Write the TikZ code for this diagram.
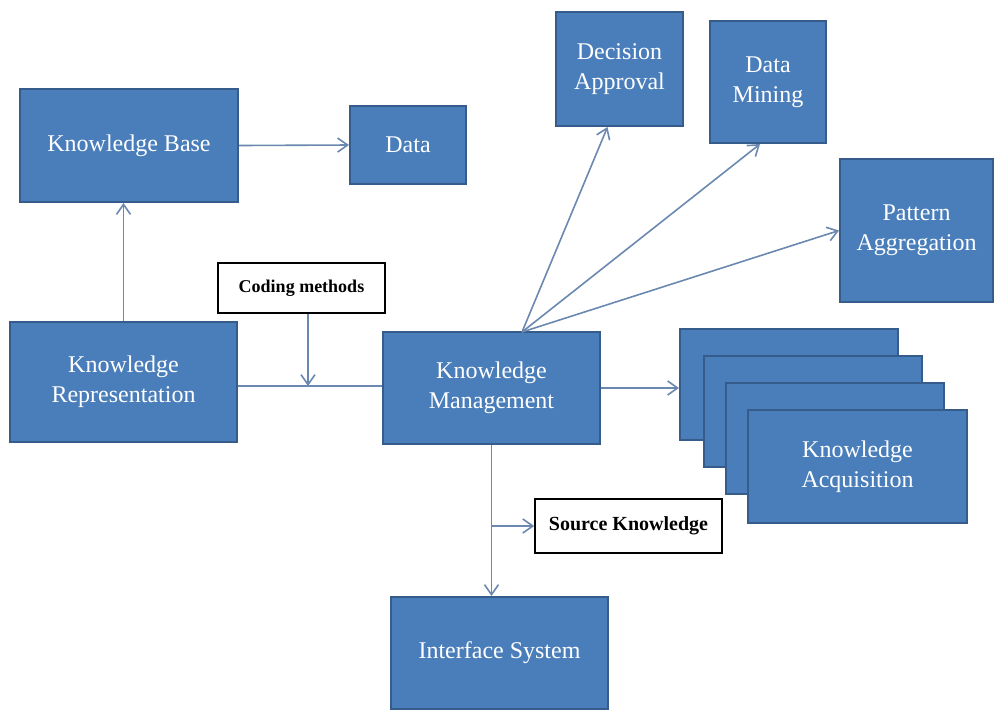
\documentclass[tikz,border=0pt]{standalone}
\usepackage{fontspec}
\setmainfont{Liberation Serif}
\usepackage{tikz}
\usetikzlibrary{arrows.meta}
\usetikzlibrary{positioning}
\definecolor{boxblue}{HTML}{4A7EBB}
\definecolor{boxline}{HTML}{365C8C}
\definecolor{linkblue}{HTML}{6A88B0}

\begin{document}
\begin{tikzpicture}[x=0.5pt,y=-0.5pt]
  \tikzset{box/.style = {shape=rectangle,draw=boxline,fill=boxblue,line width=1pt,text=white,align=center,inner sep=2pt,font=\fontsize{12}{15}\selectfont}}
  \tikzset{notebox/.style = {shape=rectangle,draw=black,fill=white,line width=0.8pt,align=center,inner sep=2pt,font=\bfseries}}
  \tikzset{edge/.style = {draw=linkblue,line width=0.8pt,-{Straight Barb[length=5pt,width=7pt]}}}
  \tikzset{plain/.style = {draw=linkblue,line width=0.8pt}}
  \useasboundingbox (0,0) rectangle (995,709);

	\node[box,minimum width=109pt,minimum height=56.5pt] (KB) at (129,145.5) {Knowledge Base};
	\node[box,minimum width=58pt,minimum height=39pt] (Data) at (408,145) {Data};
	\node[box,minimum width=63.5pt,minimum height=57pt] (DA) at (619.5,69) {Decision\\Approval};
	\node[box,minimum width=58pt,minimum height=61pt] (DM) at (768,82) {Data\\Mining};
	\node[box,minimum width=76.5pt,minimum height=71.5pt] (PA) at (916.5,230.5) {Pattern\\Aggregation};

	\node[notebox,minimum width=83.5pt,minimum height=25pt,font=\bfseries\fontsize{9}{11}\selectfont] (CM) at (301.5,288) {Coding methods};
	\node[box,minimum width=113.5pt,minimum height=60pt] (KR) at (123.5,382) {Knowledge\\Representation};
	\node[box,minimum width=108.5pt,minimum height=56pt] (KM) at (491.5,388) {Knowledge\\Management};

	% stacked acquisition boxes
	\node[box,minimum width=109pt,minimum height=55.5pt] (KA1) at (789,384.5) {};
	\node[box,minimum width=109pt,minimum height=55.5pt] (KA2) at (812.5,411) {};
	\node[box,minimum width=109pt,minimum height=55.5pt] (KA3) at (834.5,438.5) {};
	\node[box,minimum width=109.5pt,minimum height=56.5pt] (KA4) at (857.5,466.5) {Knowledge\\Acquisition};

	\node[notebox,minimum width=93.5pt,minimum height=27pt,font=\bfseries\fontsize{10}{12}\selectfont] (SK) at (628.5,526) {Source Knowledge};
	\node[box,minimum width=108.5pt,minimum height=56pt] (IS) at (499.5,653) {Interface System};

	\coordinate (J) at (308,386);
	\coordinate (F) at (522,332);
	\coordinate (B) at (KM.south |- SK.west);

	\draw[edge] (KR.north) -- (KR.north |- KB.south);
	\draw[edge] (KB.east) -- (Data.west);
	\draw[plain] (KR.east |- J) -- (KM.west |- J);
	\draw[edge] (CM.south -| J) -- (J);

    \foreach \to/\dx in {DA.south/-6pt, DM.south/-4pt, PA.west/0pt}
    \draw[edge] (F) -- ([xshift=\dx]\to);

	\draw[edge] (KM.east) -- (KM.east -| KA1.west);
	\draw[edge] (KM.south) -- (KM.south |- IS.north);
	\draw[edge] (B) -- (SK.west);

\end{tikzpicture}
\end{document}
